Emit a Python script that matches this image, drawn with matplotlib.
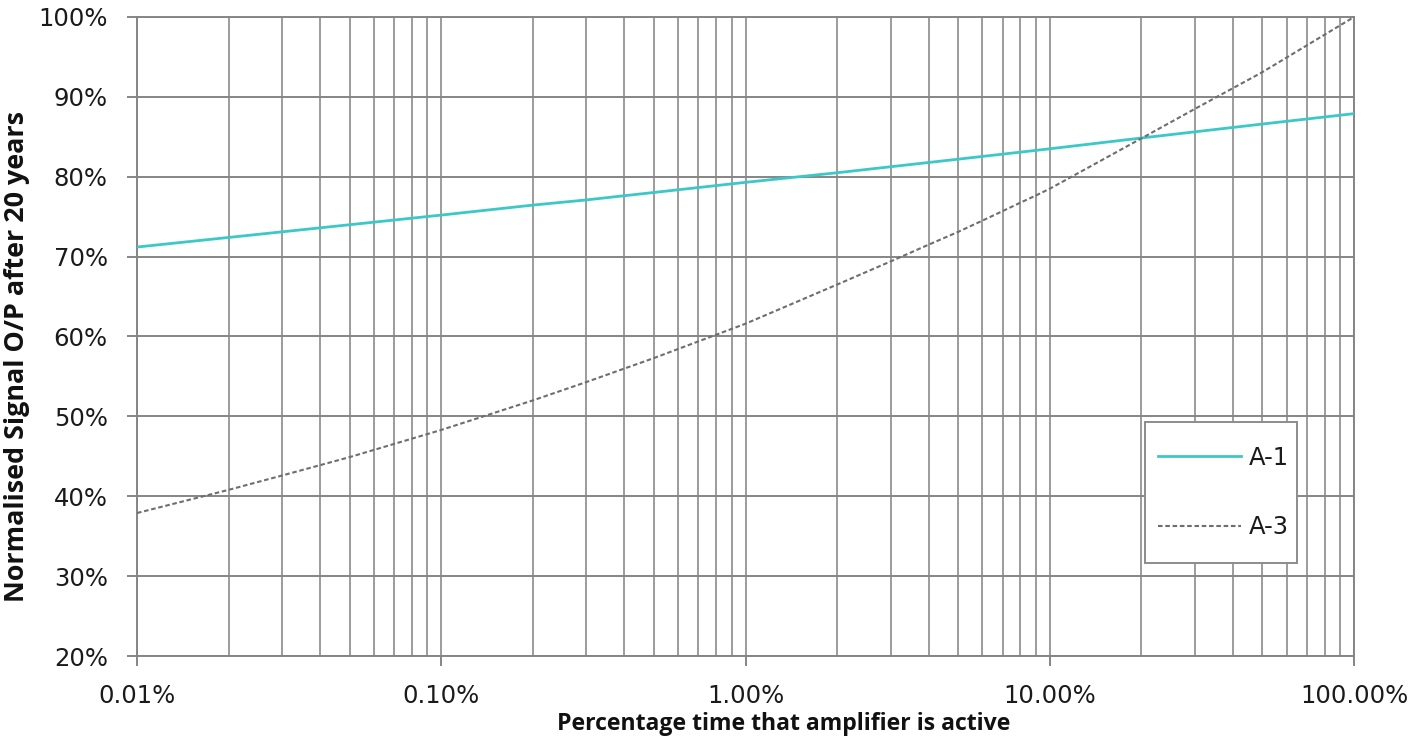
import matplotlib
matplotlib.use("Agg")
import matplotlib.pyplot as plt
from matplotlib.patches import Rectangle
from matplotlib.ticker import FixedLocator, FixedFormatter, NullFormatter, LogLocator

# ---- data (percent) ----
a1_x = [0.01, 0.02, 0.1, 0.2, 0.3, 1, 2, 5, 10, 20, 50, 100]
a1_y = [71.2, 72.4, 75.2, 76.45, 77.1, 79.3, 80.5, 82.2, 83.5, 84.85, 86.6, 87.9]

a3_x = [0.01, 0.02, 0.03, 0.05, 0.1, 0.2, 0.3, 0.5, 1, 2, 3, 4, 5, 6, 7, 8, 9, 10,
        20, 30, 50, 100]
a3_y = [37.9, 40.8, 42.6, 44.9, 48.3, 52.0, 54.3, 57.3, 61.6, 66.5, 69.4, 71.5, 73.1,
        74.5, 75.7, 76.75, 77.65, 78.5, 84.8, 88.5, 93.1, 100.0]

x_ticks = [0.01, 0.1, 1, 10, 100]
x_tick_labels = ["0.01%", "0.10%", "1.00%", "10.00%", "100.00%"]
y_ticks = [20, 30, 40, 50, 60, 70, 80, 90, 100]
y_tick_labels = ["20%", "30%", "40%", "50%", "60%", "70%", "80%", "90%", "100%"]

series_names = ["A-1", "A-3"]

W, H = 1417, 748
fig = plt.figure(figsize=(W / 100, H / 100), dpi=100)
ax_l, ax_r, ax_t, ax_b = 137, 1354, 17, 656
ax = fig.add_axes([ax_l / W, 1 - ax_b / H, (ax_r - ax_l) / W, (ax_b - ax_t) / H])

def px_to_axes(px, py):
    return (px - ax_l) / (ax_r - ax_l), (ax_b - py) / (ax_b - ax_t)

grid_h = "#858585"
grid_v = "#9c9c9c"
text_c = "#1a1a1a"

ax.set_xscale("log")
ax.set_xlim(0.01, 100)
ax.set_ylim(20, 100)

ax.plot(a1_x, a1_y, color="#3cc8c8", lw=2.0, label=series_names[0], zorder=3)
ax.plot(a3_x, a3_y, color="#6e6e6e", lw=1.5, dashes=(2.2, 1.3), label=series_names[1], zorder=3)

ax.xaxis.set_major_locator(FixedLocator(x_ticks))
ax.xaxis.set_major_formatter(FixedFormatter(x_tick_labels))
ax.xaxis.set_minor_locator(LogLocator(base=10, subs=[2, 3, 4, 5, 6, 7, 8, 9], numticks=20))
ax.xaxis.set_minor_formatter(NullFormatter())
ax.yaxis.set_major_locator(FixedLocator(y_ticks))
ax.yaxis.set_major_formatter(FixedFormatter(y_tick_labels))

ax.grid(True, which="major", axis="y", color=grid_h, lw=1.4)
ax.grid(True, which="both", axis="x", color=grid_v, lw=1.4)
ax.set_axisbelow(True)

ax.tick_params(axis="x", which="major", length=7, width=1.4, color=grid_h, pad=13,
               labelsize=17.5, labelcolor=text_c)
ax.tick_params(axis="x", which="minor", length=0)
ax.tick_params(axis="y", which="major", length=7, width=1.4, color=grid_h, pad=14,
               labelsize=17.5, labelcolor=text_c)

for s in ax.spines.values():
    s.set_color(grid_h)
    s.set_linewidth(1.4)

# legend box
bx0, by0 = px_to_axes(1145, 563)
bx1, by1 = px_to_axes(1297, 422)
ax.add_patch(Rectangle((bx0, by0), bx1 - bx0, by1 - by0, transform=ax.transAxes,
                       facecolor="white", edgecolor="#8c8c8c", lw=1.4, zorder=4))
lx, ly = px_to_axes(1158, 446)
leg = ax.legend(loc="upper left", bbox_to_anchor=(lx, ly), borderaxespad=0, borderpad=0,
                frameon=False, fontsize=17.5, handlelength=3.4, handletextpad=0.33,
                labelspacing=1.87)
leg.set_zorder(5)
for t in leg.get_texts():
    t.set_color(text_c)

fig.text(784 / W, 1 - 724 / H, "Percentage time that amplifier is active",
         ha="center", va="center", fontsize=16.6, fontweight="bold",
         family="Open Sans", color="#111111")
fig.text(17 / W, 1 - 357 / H, "Normalised Signal O/P after 20 years",
         ha="center", va="center", rotation=90, fontsize=19.4, fontweight="bold",
         family="Open Sans", color="#111111")

fig.savefig("out.png", dpi=100, facecolor="white")
